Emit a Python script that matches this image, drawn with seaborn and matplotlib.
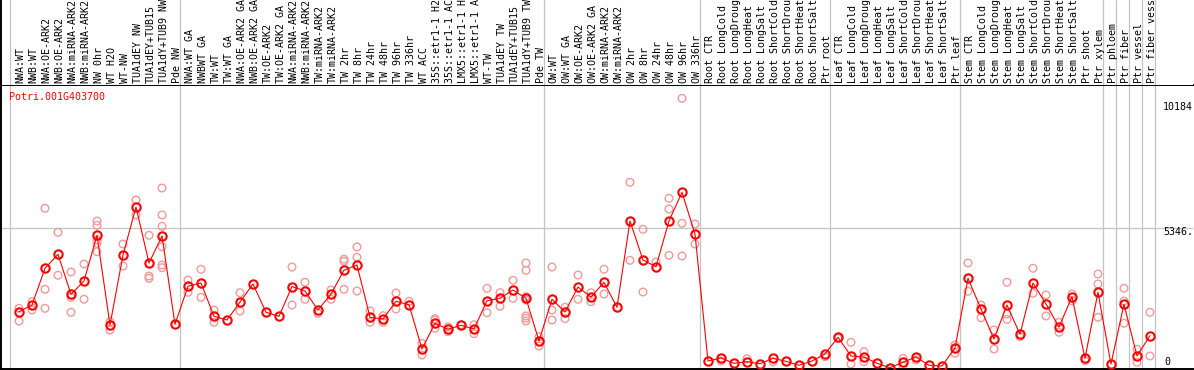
import numpy as np
import pandas as pd
import seaborn as sns
import matplotlib
matplotlib.use("Agg")
import matplotlib.pyplot as plt

# sample names as shown (truncated in the original)
sample_labels = [
    "NWA:WT", "NWB:WT", "NWA:OE-ARK2", "NWB:OE-ARK2", "NWA:miRNA-ARK2",
    "NWB:miRNA-ARK2", "NW 0hr", "WT H2O", "WT-NW", "TUA1dEY NW",
    "TUA1dEY+TUB15", "TUA1dY+TUB9 NW", "Pde NW", "NWA:WT GA", "NWBWT GA",
    "TW:WT", "TW:WT GA", "NWA:OE-ARK2 GA", "NWB:OE-ARK2 GA", "TW:OE-ARK2",
    "TW:OE-ARK2 GA", "NWA:miRNA-ARK2", "NWB:miRNA-ARK2", "TW:miRNA-ARK2",
    "TW:miRNA-ARK2", "TW 2hr", "TW 8hr", "TW 24hr", "TW 48hr", "TW 96hr",
    "TW 336hr", "WT ACC", "35S::etr1-1 H2", "35S::etr1-1 AC", "LMX5::etr1-1 H",
    "LMX5::etr1-1 A", "WT-TW", "TUA1dEY TW", "TUA1dEY+TUB15", "TUA1dY+TUB9 TW",
    "Pde TW", "OW:WT", "OW:WT GA", "OW:OE-ARK2", "OW:OE-ARK2 GA",
    "OW:miRNA-ARK2", "OW:miRNA-ARK2", "OW 2hr", "OW 8hr", "OW 24hr",
    "OW 48hr", "OW 96hr", "OW 336hr", "Root CTR", "Root LongCold",
    "Root LongDroug", "Root LongHeat", "Root LongSalt", "Root ShortCold", "Root ShortDrou",
    "Root ShortHeat", "Root ShortSalt", "Ptr root", "Leaf CTR", "Leaf LongCold",
    "Leaf LongDroug", "Leaf LongHeat", "Leaf LongSalt", "Leaf ShortCold", "Leaf ShortDrou",
    "Leaf ShortHeat", "Leaf ShortSalt", "Ptr leaf", "Stem CTR", "Stem LongCold",
    "Stem LongDroug", "Stem LongHeat", "Stem LongSalt", "Stem ShortCold", "Stem ShortDrou",
    "Stem ShortHeat", "Stem ShortSalt", "Ptr shoot", "Ptr xylem", "Ptr phloem",
    "Ptr fiber", "Ptr vessel", "Ptr fiber vess",
]

# mean expression per sample
mean_expr = [
    2223, 2473, 3842, 4364, 2872, 3368, 5073, 1727, 4338, 6128,
    4040, 5047, 1753, 3171, 3294, 2052, 1913, 2585, 3256, 2201,
    2052, 3163, 2995, 2286, 2883, 3767, 3965, 2014, 1951, 2611,
    2484, 832, 1790, 1567, 1716, 1578, 2633, 2723, 3032, 2723,
    1130, 2686, 2212, 3144, 2771, 3320, 2387, 5606, 4151, 3902,
    5606, 6677, 5121, 384, 496, 298, 358, 283, 485, 373,
    224, 384, 645, 1268, 571, 533, 298, 134, 336, 533,
    224, 198, 869, 3469, 2324, 1205, 2473, 1380, 3294, 2510,
    1652, 2783, 485, 2947, 272, 2499, 571, 1328,
]

# individual replicate values (visible ones)
replicates = [
    [2350, 1876], [2596, 2287], [6080, 3059, 2350], [5185, 3581],
    [3704, 2760, 2201], [4002, 2686], [5606, 5446, 4897, 4774, 4461],
    [1850, 1540], [4748, 3928], [6390, 5830], [5073, 3555, 3469],
    [6837, 5830, 5409, 4648, 3965, 3864], [], [3405, 2947], [3805, 2760],
    [2286, 1828], [], [2932, 2249], [], [], [],
    [3890, 2473], [3320, 2686], [2163], [3032, 2686], [4178, 4103, 3059],
    [4636, 4252, 2995], [2249, 1828], [2074, 1828], [2921, 2324], [2611],
    [1044, 608], [1962, 1913, 1604], [1652, 1477], [1738], [1738, 1402],
    [3096, 2186], [2932, 2425], [3394, 2723],
    [4040, 3767, 2783, 2659, 2063, 1977, 1876], [1291, 944],
    [3890, 2286, 1913], [2387, 1962], [3592, 2686], [2932, 2596],
    [3805, 2883], [], [7050, 4140], [5297, 2958], [4077],
    [6453, 6054, 4327], [10184, 5520, 4301], [5494, 4748],
    [], [384], [], [470], [], [358], [], [], [], [545],
    [1231], [1082, 272], [731, 358], [], [], [485, 198], [421], [], [],
    [981, 671], [4040, 2984], [2473, 1999], [1540, 832], [3320, 2137, 1940],
    [1291], [3842, 2909], [2846, 2063], [1828, 1455], [2883, 2633], [395],
    [3629, 3256, 2014], [], [3096, 2622, 1790], [821, 336], [2201, 571],
]

# last sample index of each tissue group
group_ends = [12, 40, 52, 62, 72, 83, 84, 85, 86, 87]
gene_id = "Potri.001G403700"
ref_line = 5346
scale_text = ["10184", "5346.", "0"]

sns.set_style("white")
plt.rcParams["font.family"] = ["DejaVu Sans Mono"]
fs = 7.2
grid_c = "#c4c4c4"
rep_c = "#f09a9a"

W, H = 1194, 370
fig = plt.figure(figsize=(W / 100, H / 100), dpi=100)
ax = fig.add_axes([1 / W, 1 / H, 1192 / W, 284 / H])
ax_lab = fig.add_axes([1 / W, 285 / H, 1192 / W, 85 / H], sharex=ax)

x = np.arange(len(sample_labels))
df_mean = pd.DataFrame({"sample": x, "expr": mean_expr})
rows = [(i, v) for i, reps in enumerate(replicates) for v in reps]
df_rep = pd.DataFrame(rows, columns=["sample", "expr"])

# group separators and reference line
for a in (ax, ax_lab):
    a.axvline(-0.7, color=grid_c, lw=0.9, zorder=0)
    for e in group_ends:
        a.axvline(e + 0.4, color=grid_c, lw=0.9, zorder=0)
ax.axhline(ref_line, color=grid_c, lw=0.9, zorder=0)

sns.scatterplot(data=df_rep, x="sample", y="expr", ax=ax, s=30, color=rep_c,
                edgecolor=rep_c, linewidth=1.0, zorder=2, legend=False)
ax.collections[-1].set_facecolor("none")

sns.lineplot(data=df_mean, x="sample", y="expr", ax=ax, color="red", lw=0.8,
             marker="o", ms=6, mfc="none", mec="red", mew=1.5, zorder=3)

ax.set_xlim(-1.385, 90.31)
ax.set_ylim(86, 10679)
ax.set_xticks([])
ax.set_yticks([])
ax.set_xlabel("")
ax.set_ylabel("")
ax_lab.set_ylim(0, 1)
ax_lab.set_yticks([])
ax_lab.tick_params(bottom=False, labelbottom=False)

for s in ["left", "top", "bottom"]:
    ax.spines[s].set_color("black")
    ax.spines[s].set_linewidth(1.4)
ax.spines["right"].set_visible(False)
for s in ["right", "top", "bottom"]:
    ax_lab.spines[s].set_visible(False)
ax_lab.spines["left"].set_color("black")
ax_lab.spines["left"].set_linewidth(1.4)

# rotated sample labels
for i, lab in enumerate(sample_labels):
    ax_lab.text(i + 0.13, 2 / 85, lab, rotation=90, ha="center", va="bottom",
                fontsize=fs, color="black", clip_on=False)

fig.text(9 / W, 1 - 97 / H, gene_id, color="red", fontsize=fs, va="center", ha="left")
for (px, py), t in zip([(1163, 107), (1163, 232), (1164, 362)], scale_text):
    fig.text(px / W, 1 - py / H, t, color="black", fontsize=fs, va="center", ha="left")

fig.savefig("out.png", dpi=100)
